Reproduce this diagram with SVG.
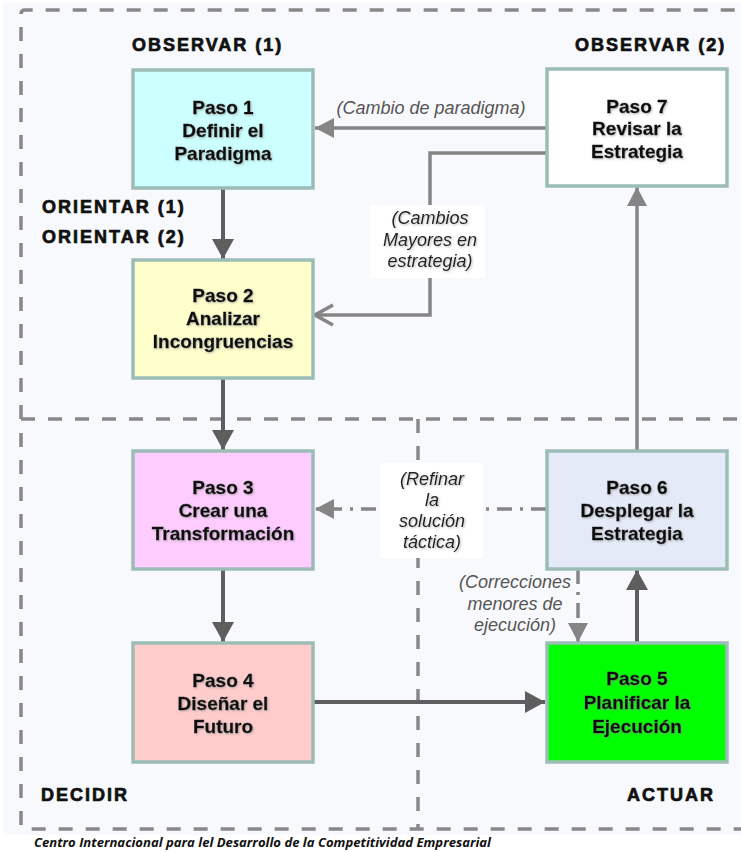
<svg xmlns="http://www.w3.org/2000/svg" width="741" height="852" viewBox="0 0 741 852">
<defs>
<style>
.frame{fill:none;stroke:#888;stroke-width:3.5;stroke-dasharray:14 13}
.box{stroke:#9cbcb6;stroke-width:3.5}
.bt{font-family:"Liberation Sans",Arial,sans-serif;font-weight:bold;font-size:19px;fill:#111;stroke:#111;stroke-width:0.3;text-anchor:middle;filter:url(#sh)}
.ph{font-family:"Liberation Sans",Arial,sans-serif;font-weight:bold;font-size:18px;letter-spacing:2px;fill:#111;stroke:#111;stroke-width:0.7}
.it{font-family:"Liberation Sans",Arial,sans-serif;font-style:italic;font-size:18px;text-anchor:middle}
.dk{fill:#222;filter:url(#sh)}
.gr{fill:#555}
.c1{fill:none;stroke:#5e5e5e;stroke-width:4}
.c2{fill:none;stroke:#858585;stroke-width:3.5}
.dd{fill:none;stroke:#858585;stroke-width:3.5;stroke-dasharray:15 8 3 8}
.lb{fill:#fff}
</style>
<filter id="sh" x="-10%" y="-10%" width="130%" height="140%">
<feDropShadow dx="1" dy="1" stdDeviation="0.8" flood-color="#888" flood-opacity="0.6"/>
</filter>
<marker id="a1" markerUnits="userSpaceOnUse" markerWidth="20" markerHeight="22" refX="20" refY="11" orient="auto">
<path d="M0,0 L20,11 L0,22 z" fill="#5e5e5e"/>
</marker>
<marker id="a2" markerUnits="userSpaceOnUse" markerWidth="19" markerHeight="20" refX="19" refY="10" orient="auto">
<path d="M0,0 L19,10 L0,20 z" fill="#858585"/>
</marker>
<marker id="ao" markerUnits="userSpaceOnUse" markerWidth="22" markerHeight="24" refX="20" refY="12" orient="auto">
<path d="M2,2 L20,12 L2,22" fill="none" stroke="#858585" stroke-width="3.5"/>
</marker>
</defs>
<rect x="0" y="0" width="741" height="852" fill="#fff"/>
<rect x="3" y="3" width="738" height="832" fill="#f8f9fc"/>
<g id="frame">
<path class="frame" d="M21,419 L21,14 Q21,10 25,10 L741,10"/>
<path class="frame" d="M21,419 L741,419"/>
<path class="frame" d="M21,433 L21,825 Q21,829 25,829 L741,829"/>
<path class="frame" d="M418,419 L418,829"/>
</g>
<g id="phases">
<text class="ph" x="132" y="50.5">OBSERVAR (1)</text>
<text class="ph" x="575" y="50.5">OBSERVAR (2)</text>
<text class="ph" x="42" y="213">ORIENTAR (1)</text>
<text class="ph" x="42" y="242.5">ORIENTAR (2)</text>
<text class="ph" x="41" y="800.5">DECIDIR</text>
<text class="ph" x="627" y="800.5">ACTUAR</text>
</g>
<g id="connectors">
<line class="c1" x1="223" y1="188" x2="223" y2="259" marker-end="url(#a1)"/>
<line class="c1" x1="223" y1="378" x2="223" y2="450" marker-end="url(#a1)"/>
<line class="c1" x1="223" y1="569" x2="223" y2="642" marker-end="url(#a1)"/>
<line class="c1" x1="313" y1="702" x2="545" y2="702" marker-end="url(#a1)"/>
<line class="c1" x1="637" y1="643" x2="637" y2="570" marker-end="url(#a1)"/>
<line class="c2" x1="637" y1="451" x2="637" y2="187" marker-end="url(#a2)"/>
<line class="c2" x1="546" y1="128" x2="315" y2="128" marker-end="url(#a2)"/>
<path class="c2" d="M546,153 L430,153 L430,315 L315,315" marker-end="url(#ao)"/>
<line class="dd" x1="546" y1="509" x2="315" y2="509" marker-end="url(#a2)"/>
<line class="dd" x1="578" y1="569" x2="578" y2="642" marker-end="url(#a2)"/>
<text class="it gr" x="431" y="114">(Cambio de paradigma)</text>
<g id="lbl-cambios">
<rect class="lb" x="370" y="205" width="115" height="73"/>
<text class="it dk" x="430" y="224">(Cambios</text>
<text class="it dk" x="430" y="246">Mayores en</text>
<text class="it dk" x="430" y="267">estrategia)</text>
</g>
<g id="lbl-refinar">
<rect class="lb" x="380" y="463" width="103" height="95"/>
<text class="it dk" x="432" y="485">(Refinar</text>
<text class="it dk" x="432" y="506">la</text>
<text class="it dk" x="432" y="527">solución</text>
<text class="it dk" x="432" y="548">táctica)</text>
</g>
<text class="it gr" x="515" y="588">(Correcciones</text>
<text class="it gr" x="515" y="610">menores de</text>
<text class="it gr" x="515" y="631">ejecución)</text>
</g>
<g id="paso1">
<rect class="box" x="133" y="70" width="180" height="118" fill="#ccffff"/>
<text class="bt" x="223" y="113.5">Paso 1</text>
<text class="bt" x="223" y="136.5">Definir el</text>
<text class="bt" x="223" y="159.5">Paradigma</text>
</g>
<g id="paso2">
<rect class="box" x="133" y="260" width="180" height="118" fill="#ffffcc"/>
<text class="bt" x="223" y="302">Paso 2</text>
<text class="bt" x="223" y="325">Analizar</text>
<text class="bt" x="223" y="348">Incongruencias</text>
</g>
<g id="paso3">
<rect class="box" x="133" y="451" width="180" height="118" fill="#ffccff"/>
<text class="bt" x="223" y="494">Paso 3</text>
<text class="bt" x="223" y="517">Crear una</text>
<text class="bt" x="223" y="540">Transformación</text>
</g>
<g id="paso4">
<rect class="box" x="133" y="643" width="180" height="119" fill="#ffcccc"/>
<text class="bt" x="223" y="687">Paso 4</text>
<text class="bt" x="223" y="710">Diseñar el</text>
<text class="bt" x="223" y="733">Futuro</text>
</g>
<g id="paso5">
<rect class="box" x="547" y="643" width="180" height="119" fill="#00ff00"/>
<text class="bt" x="637" y="685">Paso 5</text>
<text class="bt" x="637" y="709">Planificar la</text>
<text class="bt" x="637" y="733">Ejecución</text>
</g>
<g id="paso6">
<rect class="box" x="547" y="451" width="180" height="118" fill="#e4eaf7"/>
<text class="bt" x="637" y="494">Paso 6</text>
<text class="bt" x="637" y="517">Desplegar la</text>
<text class="bt" x="637" y="540">Estrategia</text>
</g>
<g id="paso7">
<rect class="box" x="547" y="69" width="180" height="117" fill="#ffffff"/>
<text class="bt" x="637" y="113">Paso 7</text>
<text class="bt" x="637" y="135">Revisar la</text>
<text class="bt" x="637" y="158">Estrategia</text>
</g>
<text x="34" y="847" font-family="'Open Sans','Liberation Sans',sans-serif" font-weight="bold" font-style="italic" font-size="12" fill="#111" textLength="457" lengthAdjust="spacingAndGlyphs">Centro Internacional para lel Desarrollo de la Competitividad Empresarial</text>
</svg>
